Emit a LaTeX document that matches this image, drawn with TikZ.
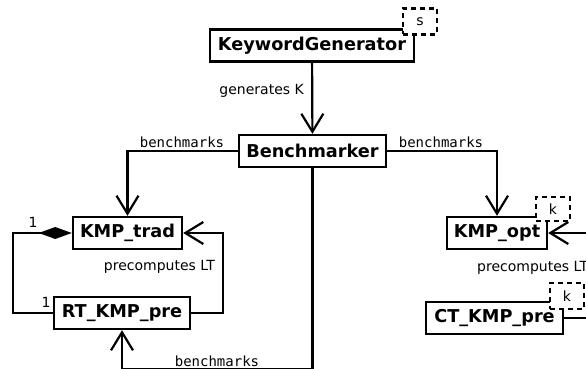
\documentclass[tikz,border=0pt]{standalone}
\usepackage{fontspec}
\setmainfont{DejaVu Sans}
\setmonofont{DejaVu Sans Mono}
\usetikzlibrary{arrows.meta}
\begin{document}
\begin{tikzpicture}[x=1pt,y=-1pt,
  cls/.style={draw,line width=2.4pt,fill=white,inner xsep=0pt,inner ysep=0pt,minimum height=32pt,font=\fontsize{17.7}{20}\selectfont\bfseries},
  tparam/.style={draw,line width=2.2pt,dash pattern=on 5pt off 4pt,fill=white,inner sep=0pt,font=\fontsize{14}{16}\selectfont},
  conn/.style={line width=2.2pt},
  open/.style={conn,-{Straight Barb[length=18pt,width=22pt]}},
  comp/.style={conn,-{Diamond[length=33pt,width=12pt]}},
  lbl/.style={inner sep=0pt,font=\fontsize{14}{16}\selectfont},
  mlbl/.style={inner sep=0pt,font=\fontsize{14}{16}\selectfont\ttfamily}]
\path[use as bounding box] (0,0) rectangle (586,369);
\clip (0,0) rectangle (586,369);
% classes
\node[cls,minimum width=204pt] (kg) at (312,45.5) {KeywordGenerator};
\node[cls,minimum width=147pt] (bench) at (312.5,151) {Benchmarker};
\node[cls,minimum width=109pt] (trad) at (127.5,233) {KMP\_trad};
\node[cls,minimum width=136pt] (rt) at (122,313) {RT\_KMP\_pre};
\node[cls,minimum width=100pt] (opt) at (497,233) {KMP\_opt};
\node[cls,minimum width=137pt] (ct) at (494.5,318) {CT\_KMP\_pre};
% template parameters
\node[tparam,minimum width=34pt,minimum height=26pt] (ps) at (420,21.5) {s};
\node[tparam,minimum width=34pt,minimum height=24pt] (pk1) at (553,209) {k};
\node[tparam,minimum width=34pt,minimum height=26pt] (pk2) at (567,296) {k};
% helper coordinates
\coordinate (lc) at (13,233);
\coordinate (rc) at (223,233);
\coordinate (bb) at (122,369.1);
\coordinate (rr) at (599,233);
% connectors
\draw[open] (kg) -- (bench);
\draw[open] (bench.west) -| (trad.north);
\draw[open] (bench.east) -| (opt.north);
\draw[comp] (rt.west) -| (lc) -- (trad.west);
\draw[open] (rt.east) -| (rc) -- (trad.east);
\draw[open] (bench.south) |- (bb) -- (rt.south);
\draw[open] (ct.east) -| (rr) -- (opt.east);
% labels
\node[lbl,anchor=east] (lg) at (304,91) {generates K};
\node[mlbl] (lb1) at (182,142) {benchmarks};
\node[mlbl] (lb2) at (441,142) {benchmarks};
\node[mlbl] (lb3) at (217,361) {benchmarks};
\node[lbl,anchor=east] (lp1) at (215,267) {precomputes LT};
\node[lbl,anchor=west] (lp2) at (477,268) {precomputes LT};
\node[lbl] (m1) at (33,222) {1};
\node[lbl] (m2) at (46,302) {1};
\end{tikzpicture}
\end{document}
